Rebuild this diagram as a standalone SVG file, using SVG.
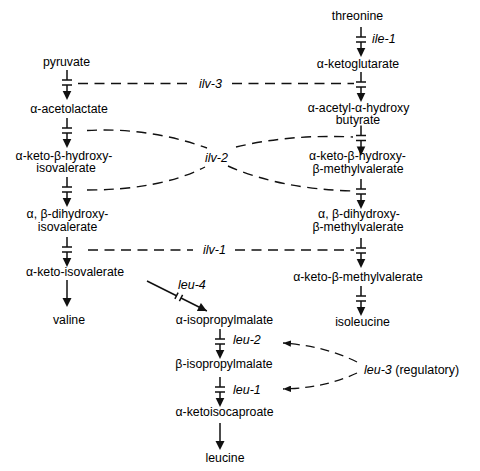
<svg xmlns="http://www.w3.org/2000/svg" width="480" height="471" viewBox="0 0 480 471">
<defs>
<style>
.t{font-family:"Liberation Sans",Arial,sans-serif;font-size:12.3px;fill:#000;text-anchor:middle}
.lab{font-family:"Liberation Sans",Arial,sans-serif;font-size:12.5px;fill:#000;font-style:italic}
.ln{stroke:#111;stroke-width:1.5;fill:none}
.dash{stroke:#111;stroke-width:1.4;fill:none;stroke-dasharray:10 6.5}
.dash2{stroke:#111;stroke-width:1.3;fill:none;stroke-dasharray:9 6}
</style>
<g id="blk">
<path class="ln" d="M0,0V10M-5,10H5M-5,15H5M0,15V22"/>
<polygon points="-4.3,21 4.3,21 0,30" fill="#111"/>
</g>
<g id="arr">
<path class="ln" d="M0,0V19"/>
<polygon points="-4.5,18 4.5,18 0,27" fill="#111"/>
</g>
<marker id="big" viewBox="0 0 10 10" refX="10" refY="5" markerWidth="10" markerHeight="9" orient="auto" markerUnits="userSpaceOnUse">
<path d="M0,0L10,5L0,10z" fill="#111"/>
</marker>
<marker id="sm" viewBox="0 0 10 8" refX="10" refY="4" markerWidth="8" markerHeight="6.4" orient="auto" markerUnits="userSpaceOnUse">
<path d="M0,0L10,4L0,8z" fill="#111"/>
</marker>
</defs>
<rect width="480" height="471" fill="#fff"/>

<g id="pyruvate"><text class="t" x="66.5" y="66">pyruvate</text></g>
<g id="acetolactate"><text class="t" x="69" y="113">α-acetolactate</text></g>
<g id="keto-hydroxy-isovalerate"><text class="t" x="64" y="159.5">α-keto-β-hydroxy-</text><text class="t" x="66" y="172">isovalerate</text></g>
<g id="dihydroxy-isovalerate"><text class="t" x="67.5" y="218">α, β-dihydroxy-</text><text class="t" x="67.5" y="230.5">isovalerate</text></g>
<g id="keto-isovalerate"><text class="t" x="75" y="276">α-keto-isovalerate</text></g>
<g id="valine"><text class="t" x="69" y="324">valine</text></g>

<g id="threonine"><text class="t" x="357.5" y="20">threonine</text></g>
<g id="ketoglutarate"><text class="t" x="358" y="68">α-ketoglutarate</text></g>
<g id="acetyl-hydroxy-butyrate"><text class="t" x="358.5" y="111.5">α-acetyl-α-hydroxy</text><text class="t" x="358" y="124">butyrate</text></g>
<g id="keto-hydroxy-methylvalerate"><text class="t" x="357.5" y="160">α-keto-β-hydroxy-</text><text class="t" x="358" y="173">β-methylvalerate</text></g>
<g id="dihydroxy-methylvalerate"><text class="t" x="359" y="218">α, β-dihydroxy-</text><text class="t" x="358" y="230.5">β-methylvalerate</text></g>
<g id="keto-methylvalerate"><text class="t" x="358" y="280.5">α-keto-β-methylvalerate</text></g>
<g id="isoleucine"><text class="t" x="362.5" y="326">isoleucine</text></g>

<g id="isopropylmalate-a"><text class="t" x="224.5" y="324">α-isopropylmalate</text></g>
<g id="isopropylmalate-b"><text class="t" x="224" y="368">β-isopropylmalate</text></g>
<g id="ketoisocaproate"><text class="t" x="224.5" y="416">α-ketoisocaproate</text></g>
<g id="leucine"><text class="t" x="225" y="462">leucine</text></g>
<g id="leu-3"><text class="lab" x="364" y="374">leu-3<tspan font-style="normal"> (regulatory)</tspan></text></g>

<g id="connectors">
<use href="#blk" x="67" y="70"/>
<use href="#blk" x="67" y="118"/>
<use href="#blk" x="67" y="177"/>
<use href="#blk" x="67" y="237"/>
<use href="#arr" x="67" y="280"/>

<use href="#blk" x="361" y="27"/>
<use href="#blk" x="361" y="72"/>
<use href="#blk" x="361" y="125.5"/>
<use href="#blk" x="361" y="179"/>
<use href="#blk" x="361" y="238"/>
<use href="#blk" x="361" y="286"/>

<use href="#blk" x="220" y="329"/>
<use href="#blk" x="220" y="377"/>
<use href="#arr" x="220" y="423"/>

<path class="ln" d="M147,281L176.5,295.75M181,298L206.9,311" marker-end="url(#big)"/>
<path class="ln" stroke-width="1.3" d="M174.9,298.9L178.1,292.6M179.4,301.1L182.6,294.9"/>

<path class="dash" d="M78,83.5H187M232,83.5H354"/>
<path class="dash" d="M87,130.5Q148,127 207,148"/>
<path class="dash" d="M87,190Q160,190 205,167"/>
<path class="dash" d="M236,147Q290,134 353,137"/>
<path class="dash" d="M228,166Q280,189 353,191"/>
<path class="dash" d="M88,250H193M235,250H354"/>

<path class="dash2" d="M357,362Q325,346 283,343" marker-end="url(#sm)"/>
<path class="dash2" d="M357,373Q325,388 283,389" marker-end="url(#sm)"/>
</g>

<g id="labels">
<text class="lab" x="372" y="43">ile-1</text>
<text class="lab" x="199" y="88">ilv-3</text>
<text class="lab" x="205" y="161.5">ilv-2</text>
<text class="lab" x="203" y="254">ilv-1</text>
<text class="lab" x="178" y="288.5">leu-4</text>
<text class="lab" x="233" y="343.5">leu-2</text>
<text class="lab" x="233" y="394">leu-1</text>
</g>
</svg>
